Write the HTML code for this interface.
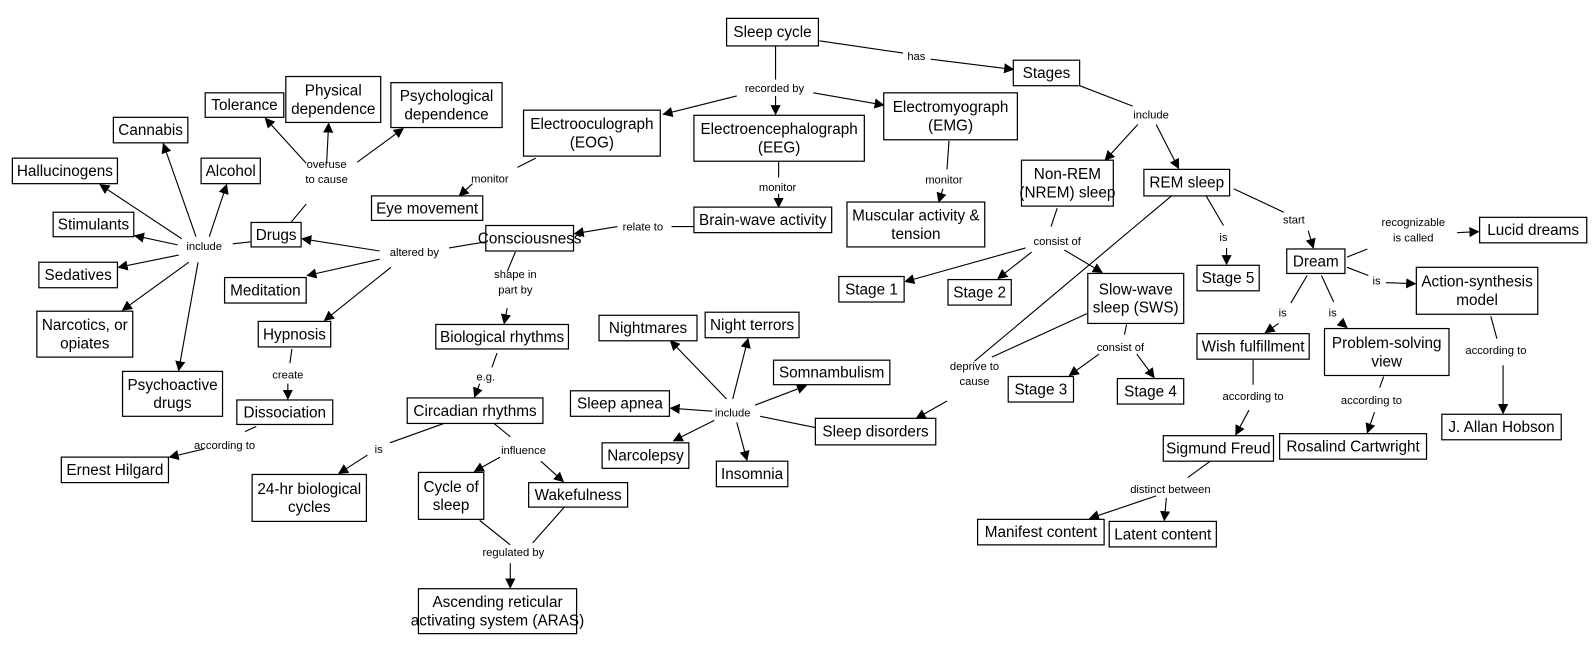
<!DOCTYPE html>
<html><head><meta charset="utf-8"><style>
html,body{margin:0;padding:0;background:#fff;}
svg{display:block;}
.b{fill:#fff;stroke:#000;stroke-width:1.2;}
.t{font-family:"Liberation Sans",sans-serif;font-size:15px;fill:#000;text-anchor:middle;}
.l{font-family:"Liberation Sans",sans-serif;font-size:11px;fill:#000;text-anchor:middle;}
.e{stroke:#000;stroke-width:1.1;fill:none;}
</style></head><body>
<svg width="1595" height="652" viewBox="0 0 1563 639" xmlns="http://www.w3.org/2000/svg">
<defs><marker id="a" markerWidth="10" markerHeight="10" refX="9" refY="5" orient="auto" markerUnits="userSpaceOnUse"><path d="M0,0 L10,5 L0,10 z" fill="#000"/></marker></defs>
<g class="e" id="edges"></g>
<g id="boxes"></g>
<g id="labels"></g>
<script>
var NS="http://www.w3.org/2000/svg";
function el(n,a,p){var e=document.createElementNS(NS,n);for(var k in a)e.setAttribute(k,a[k]);p.appendChild(e);return e;}
var E=document.getElementById('edges'),B=document.getElementById('boxes'),Lb=document.getElementById('labels');
var boxes=[
[712,18,802,45,["Sleep cycle"]],[993,59,1058,84,["Stages"]],
[513,108,647,153,["Electrooculograph","(EOG)"]],[680,113,847,158,["Electroencephalograph","(EEG)"]],
[866,91,997,137,["Electromyograph","(EMG)"]],[680,203,815,228,["Brain-wave activity"]],
[830,198,965,242,["Muscular activity &","tension"]],[364,192,473,216,["Eye movement"]],
[476,221,562,246,["Consciousness"]],[201,91,278,115,["Tolerance"]],
[280,75,373,120,["Physical","dependence"]],[383,81,492,125,["Psychological","dependence"]],
[111,115,184,140,["Cannabis"]],[12,155,115,180,["Hallucinogens"]],[197,155,255,180,["Alcohol"]],
[52,208,131,232,["Stimulants"]],[246,218,295,242,["Drugs"]],[38,257,115,282,["Sedatives"]],
[220,272,300,297,["Meditation"]],[36,305,130,350,["Narcotics, or","opiates"]],
[253,315,324,340,["Hypnosis"]],[120,364,218,408,["Psychoactive","drugs"]],
[232,392,326,416,["Dissociation"]],[60,448,165,473,["Ernest Hilgard"]],
[427,318,557,342,["Biological rhythms"]],[399,390,532,415,["Circadian rhythms"]],
[247,465,359,511,["24-hr biological","cycles"]],[410,463,474,509,["Cycle of","sleep"]],
[518,473,615,497,["Wakefulness"]],[410,577,565,621,["Ascending reticular","activating system (ARAS)"]],
[587,309,683,334,["Nightmares"]],[691,306,783,331,["Night terrors"]],[758,353,872,377,["Somnambulism"]],
[559,383,656,408,["Sleep apnea"]],[590,434,675,459,["Narcolepsy"]],[702,452,772,477,["Insomnia"]],
[799,410,917,436,["Sleep disorders"]],[1001,157,1091,202,["Non-REM","(NREM) sleep"]],
[1121,166,1205,192,["REM sleep"]],[822,271,886,296,["Stage 1"]],[929,274,991,299,["Stage 2"]],
[1066,268,1160,317,["Slow-wave","sleep (SWS)"]],[1173,260,1234,285,["Stage 5"]],
[988,369,1052,394,["Stage 3"]],[1095,371,1160,396,["Stage 4"]],[1261,244,1318,268,["Dream"]],
[1450,213,1555,238,["Lucid dreams"]],[1388,262,1507,308,["Action-synthesis","model"]],
[1173,327,1283,352,["Wish fulfillment"]],[1298,322,1420,368,["Problem-solving","view"]],
[1413,406,1530,431,["J. Allan Hobson"]],[1140,427,1248,452,["Sigmund Freud"]],
[1254,425,1398,450,["Rosalind Cartwright"]],[958,509,1082,534,["Manifest content"]],
[1087,511,1192,536,["Latent content"]]];
boxes.forEach(function(b){
 el('rect',{x:b[0],y:b[1],width:b[2]-b[0],height:b[3]-b[1],'class':'b'},B);
 var cx=(b[0]+b[2])/2,cy=(b[1]+b[3])/2,n=b[4].length;
 b[4].forEach(function(s,i){var t=el('text',{x:cx,y:cy+5+(i-(n-1)/2)*18,'class':'t'},B);t.textContent=s;});
});
var labels=[
[898,55,["has"]],[759,86,["recorded by"]],[1128,112,["include"]],[480,175,["monitor"]],
[762,183,["monitor"]],[925,176,["monitor"]],[630,222,["relate to"]],[406,247,["altered by"]],
[200,241,["include"]],[320,168,["overuse","to cause"]],[505,276,["shape in","part by"]],
[476,369,["e.g."]],[282,367,["create"]],[220,436,["according to"]],[371,440,["is"]],
[513,441,["influence"]],[503,541,["regulated by"]],[718,404,["include"]],[955,366,["deprive to","cause"]],
[1036,236,["consist of"]],[1098,340,["consist of"]],[1199,232,["is"]],[1268,215,["start"]],
[1385,225,["recognizable","is called"]],[1349,275,["is"]],[1257,306,["is"]],[1306,306,["is"]],
[1228,388,["according to"]],[1344,392,["according to"]],[1466,343,["according to"]],
[1147,479,["distinct between"]]];
labels.forEach(function(l){var n=l[2].length;l[2].forEach(function(s,i){var t=el('text',{x:l[0],y:l[1]+4+(i-(n-1)/2)*15,'class':'l'},Lb);t.textContent=s;});});
var segs=[
"L 803 40 885 52","A 912 58 993 68","L 760 45 760 78","A 722 94 650 112","A 760 94 760 112","A 797 91 866 103",
"L 1058 84 1110 104","A 1115 122 1083 157","A 1133 122 1155 165",
"L 525 155 507 164","A 463 180 450 192","L 763 158 763 174","A 763 190 763 203",
"L 930 138 928 166","A 924 185 920 198","L 680 222 658 222","A 605 222 563 229",
"L 476 237 440 243","A 372 246 296 234","A 372 254 301 270","A 383 262 318 314",
"L 505 247 497 266","A 497 302 494 317","L 487 346 482 360","A 470 376 465 389",
"L 246 237 228 239","A 192 232 160 141","A 205 232 222 181","A 178 234 98 181","A 174 240 132 231",
"A 175 250 116 262","A 185 257 120 304","A 194 257 175 363",
"L 285 218 300 200","A 300 160 260 116","A 320 160 322 121","A 350 159 395 126",
"L 286 342 284 356","A 282 376 282 391","L 251 418 240 423","A 200 440 166 448",
"L 435 415 382 434","A 360 446 332 464","L 484 415 500 428","A 490 448 465 462","A 530 452 552 472",
"L 470 510 500 534","L 553 497 522 532","A 500 552 500 576",
"L 799 419 745 408","A 712 391 657 334","A 718 391 733 332","A 740 397 790 378","A 698 403 657 400",
"A 700 412 660 432","A 722 414 732 451",
"L 1148 192 955 354","L 1066 307 972 350","A 928 393 898 410",
"L 1036 204 1030 222","A 1005 243 887 276","A 1011 247 978 273","A 1043 245 1080 267",
"L 1104 318 1102 328","A 1077 347 1048 368","A 1114 347 1131 370",
"L 1182 192 1199 221","A 1202 243 1202 259","L 1209 185 1258 208","A 1282 226 1287 243",
"L 1320 252 1340 244","A 1428 228 1449 227","L 1320 262 1341 270","A 1358 277 1387 278",
"L 1281 270 1265 297","A 1253 317 1240 326","L 1295 270 1307 296","A 1313 315 1320 321",
"L 1228 353 1228 377","A 1224 402 1211 426","L 1356 369 1352 380","A 1347 404 1340 424",
"L 1461 310 1467 332","A 1473 358 1473 405",
"L 1186 452 1164 468","A 1133 486 1068 508","A 1143 488 1141 510"];
segs.forEach(function(s){var p=s.split(' ');var a={x1:p[1],y1:p[2],x2:p[3],y2:p[4]};if(p[0]=='A')a['marker-end']='url(#a)';el('line',a,E);});
</script>
</svg>
</body></html>
